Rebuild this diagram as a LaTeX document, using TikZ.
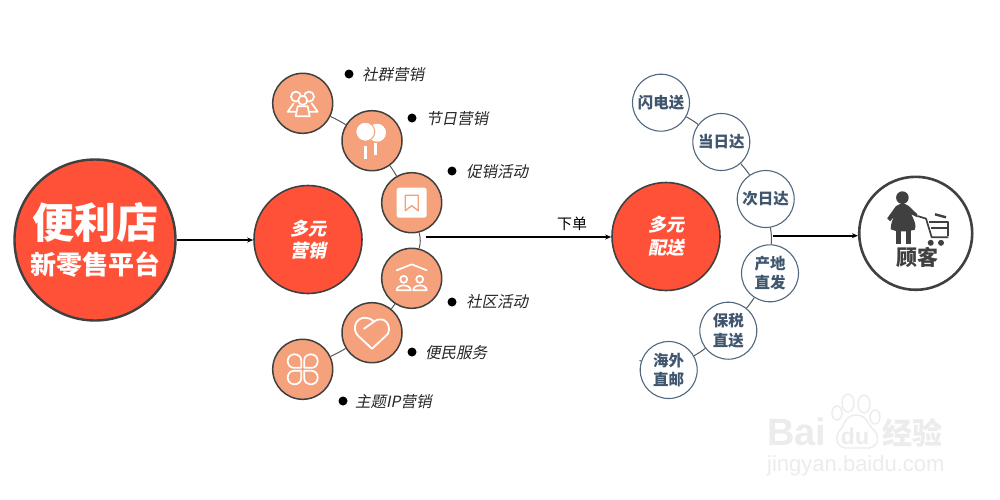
\documentclass[tikz,border=0pt]{standalone}
\usepackage{fontspec}
\setmainfont{Liberation Sans}
\newfontfamily\cjk{Noto Sans CJK SC}
\newfontfamily\cjki[FakeSlant=0.2]{Noto Sans CJK SC}
\newcommand{\cjkb}{\cjk\bfseries}
\newcommand{\cjkbi}{\cjki\bfseries}
\newcommand{\fs}[1]{\fontsize{#1}{#1}\selectfont}
\definecolor{redc}{HTML}{FF5138}
\definecolor{orangec}{HTML}{F5A17C}
\definecolor{darkc}{HTML}{404040}
\definecolor{navyc}{HTML}{3F566E}
\definecolor{ringc}{HTML}{4F6880}
\definecolor{linkc}{HTML}{595959}
\definecolor{wmc}{HTML}{ECECEC}
\usetikzlibrary{arrows.meta,shapes.geometric}
\tikzset{
  bigc/.style={circle,draw=darkc,line width=2.4pt,fill=redc,minimum size=161pt,inner sep=0pt,text=white,align=center},
  midc/.style={circle,draw=darkc,line width=1.6pt,fill=redc,minimum size=108pt,inner sep=0pt,text=white,align=center,font=\cjkbi\fs{18}},
  iconc/.style={circle,draw=darkc,line width=1.5pt,fill=orangec,minimum size=60pt,inner sep=0pt},
  delc/.style={circle,draw=ringc,line width=1.1pt,fill=white,minimum size=57pt,inner sep=0pt,text=navyc,align=center,font=\cjkb\fs{15.5}},
  custc/.style={circle,draw=darkc,line width=2.6pt,fill=white,minimum size=113pt,inner sep=0pt},
  link/.style={draw=linkc,line width=1pt},
  flow/.style={draw=black,line width=1.6pt,-{Stealth[length=6pt,width=5pt]}},
  dotn/.style={circle,fill=black,minimum size=9pt,inner sep=0pt},
  lab/.style={anchor=west,inner sep=0pt,font=\cjki\fs{15.5},text=black!85},
  ico/.style={draw=white,line width=1.7pt,line join=round,line cap=round},
}
\begin{document}
\begin{tikzpicture}[x=1pt,y=-1pt]
\useasboundingbox[fill=white] (0,0) rectangle (1000,499);
% watermark
\node[text=wmc,font=\bfseries\fs{38},anchor=west,inner sep=0pt] (wmb) at (767,432) {Bai};
\foreach \n/\x/\y/\a/\b in {p1/837/413/5/7,p2/848/403/6/9,p3/864/404/6/9,p4/875/417/5/7}
  \node[draw=wmc,line width=1.4pt,ellipse,minimum width=2*\a pt,minimum height=2*\b pt,inner sep=0pt] (\n) at (\x,\y) {};
\draw[wmc,line width=1.4pt] (856,415) .. controls (844,415) and (844,428) .. (839,431) .. controls (833,442) and (840,449) .. (849,448) -- (866,448) .. controls (876,449) and (881,440) .. (875,431) .. controls (868,427) and (868,415) .. (856,415) -- cycle;
\node[text=wmc,font=\bfseries\fs{23},inner sep=0pt] (wmd) at (855,436) {du};
\node[text=wmc,font=\cjkb\fs{30},anchor=west,inner sep=0pt] (wmj) at (882,433) {经验};
\node[text=wmc,font=\fs{22},anchor=west,inner sep=0pt] (wmu) at (767,466) {jingyan.baidu.com};
% main circles
\node[bigc] (main) at (95,240) {{\cjkb\fs{42}便利店}\\[9pt]{\cjkb\fs{26}新零售平台}};
\node[midc] (mkt) at (308,239.5) {多元\\[4pt]营销};
\node[midc] (dlv) at (666,236.5) {多元\\[5pt]配送};
\node[custc] (cust) at (915.7,233.3) {};
% icon circles
\node[iconc] (c1) at (302.7,103.3) {};
\node[iconc] (c2) at (372,140.7) {};
\node[iconc] (c3) at (411.7,202.7) {};
\node[iconc] (c4) at (411.7,278.3) {};
\node[iconc] (c5) at (372,332.7) {};
\node[iconc] (c6) at (302.7,369.3) {};
% delivery circles
\node[delc] (d1) at (661,102.7) {闪电送};
\node[delc] (d2) at (721.3,142) {当日达};
\node[delc] (d3) at (765.7,199) {次日达};
\node[delc] (d4) at (770,273.3) {产地\\[4pt]直发};
\node[delc] (d5) at (728.3,330.7) {保税\\[4pt]直送};
\node[delc] (d6) at (668.7,370) {海外\\[4pt]直邮};
% links
\draw[link] (c1) to[bend left=3] (c2);
\draw[link] (c2) to[bend left=3] (c3);
\draw[link] (c3) to[bend left=14] (c4);
\draw[link] (c4) to[bend left=3] (c5);
\draw[link] (c5) to[bend left=3] (c6);
\draw[link] (d1) to[bend left=4] (d2);
\draw[link] (d2) to[bend left=4] (d3);
\draw[link] (d3) to[bend left=6] (d4);
\draw[link] (d4) to[bend left=3] (d5);
\draw[link] (d5) to[bend left=4] (d6);
\coordinate (stub) at (639.5,360.5);
\draw[link] (d6) -- (stub);
% flow
\coordinate (j1) at (425.5,237);
\coordinate (j2) at (773,235.7);
\draw[flow] (main.east) -- (main.east -| mkt.west);
\draw[flow] (j1) -- node[pos=0.79,above=5.5pt,inner sep=0pt,font=\cjk\fs{15},text=black] (xd) {下单} (j1 -| dlv.west);
\draw[flow] (j2) -- (j2 -| cust.west);
% dots + labels
\node[dotn] (o1) at (349,74) {};  \node[lab] (t1) at (362,75) {社群营销};
\node[dotn] (o2) at (412,118) {}; \node[lab] (t2) at (426,119) {节日营销};
\node[dotn] (o3) at (452,171) {}; \node[lab] (t3) at (466,172) {促销活动};
\node[dotn] (o4) at (452,302) {}; \node[lab] (t4) at (466,302) {社区活动};
\node[dotn] (o5) at (412,352) {}; \node[lab] (t5) at (425,353) {便民服务};
\node[dotn] (o6) at (343,401) {}; \node[lab] (t6) at (355,402) {主题IP营销};
% icon 1 people
\begin{scope}[shift={(c1.center)},ico]
 \draw (-6.7,-6.7) circle (5); \draw (6.3,-6.7) circle (5);
 \draw[fill=orangec] (0,-3) circle (4.5);
 \draw (-9,0) -- (-15,8.5) -- (-6,8.5);
 \draw (9,0) -- (15,8.5) -- (6,8.5);
 \draw[fill=orangec] (-5,3) -- (-7,13) -- (7,13) -- (5,3) -- cycle;
\end{scope}
% icon 2 balloons
\begin{scope}[shift={(c2.center)}]
 \fill[white] (5,-8) circle (9);
 \fill[white,draw=orangec,line width=1pt] (-6.7,-9) circle (9.5);
 \fill[white] (-8.2,5) rectangle (-5.2,18);
 \fill[white] (2.2,2) rectangle (4.6,14);
\end{scope}
% icon 3 bookmark
\begin{scope}[shift={(c3.center)}]
 \fill[white,rounded corners=2.5pt] (-15,-15) rectangle (15,15);
 \draw[orangec,line width=1.4pt,line join=round] (-6.5,-7.5) -- (6.5,-7.5) -- (6.5,8) -- (0,3) -- (-6.5,8) -- cycle;
\end{scope}
% icon 4 community
\begin{scope}[shift={(c4.center)},ico]
 \draw (-15,-8) -- (0,-14) -- (15,-8);
 \draw (-8,1) circle (3.5); \draw (8,1) circle (3.5);
 \draw (-15,12) .. controls (-15,5.5) and (-1,5.5) .. (-1,12) -- cycle;
 \draw (1.5,12) .. controls (1.5,5.5) and (15,5.5) .. (15,12) -- cycle;
\end{scope}
% icon 5 heart
\begin{scope}[shift={(c5.center)},ico,line width=1.8pt]
 \draw (-8,-4) -- (2,-11) .. controls (8,-16) and (17,-13) .. (17,-3) .. controls (17,0) and (15.5,2) .. (14,3) -- (0,16) -- (-14,3) .. controls (-20,-3) and (-17,-15) .. (-7,-15) .. controls (-4,-15) and (-1,-14) .. (2,-11);
\end{scope}
% icon 6 clover
\begin{scope}[shift={(c6.center)},ico]
 \foreach \a in {0,90,180,270}
  \draw[rotate=\a] (1.5,-1.5) -- (1.5,-9) .. controls (1.5,-13) and (5,-15) .. (8.5,-15) .. controls (12,-15) and (15,-12) .. (15,-8.5) .. controls (15,-5) and (13,-1.5) .. (9,-1.5) -- cycle;
\end{scope}
% customer figure
\begin{scope}[shift={(cust.center)}]
 \fill[darkc] (-13.3,-35.7) circle (6.3);
 \fill[darkc] (-13,-30.6) -- (-7,-27.3) -- (1.7,-19) -- (1.7,-16) -- (-4.5,-19) .. controls (-1,-12) and (1,-8) .. (-1,-3.5) -- (-8,-2) -- (-19,-2) -- (-25,-4) .. controls (-25,-10) and (-23,-14) .. (-21.5,-17) -- (-25.5,-12) -- (-28.5,-15) -- (-19.7,-27.3) -- cycle;
 \fill[darkc] (-20,-3) rectangle (-15,10.5);
 \fill[darkc] (-10,-3) rectangle (-4.5,10.5);
 \draw[darkc,line width=1.7pt,line join=round] (1.7,-17.3) -- (10.3,-14.7) -- (16,4) -- (32.7,4);
 \draw[darkc,line width=2pt,line join=round] (13,-11.7) -- (32.7,-11.7) -- (32.7,3);
 \draw[darkc,line width=2pt] (15,-5) -- (32.7,-5);
 \draw[darkc,line width=2.4pt] (19.3,-19) -- (30.3,-16);
 \fill[darkc] (15,9.5) circle (3); \fill[darkc] (25.3,9.5) circle (3);
 \node[font=\cjkb\fs{21},text=darkc,inner sep=0pt] (gk) at (2,24.5) {顾客};
\end{scope}
\end{tikzpicture}
\end{document}
